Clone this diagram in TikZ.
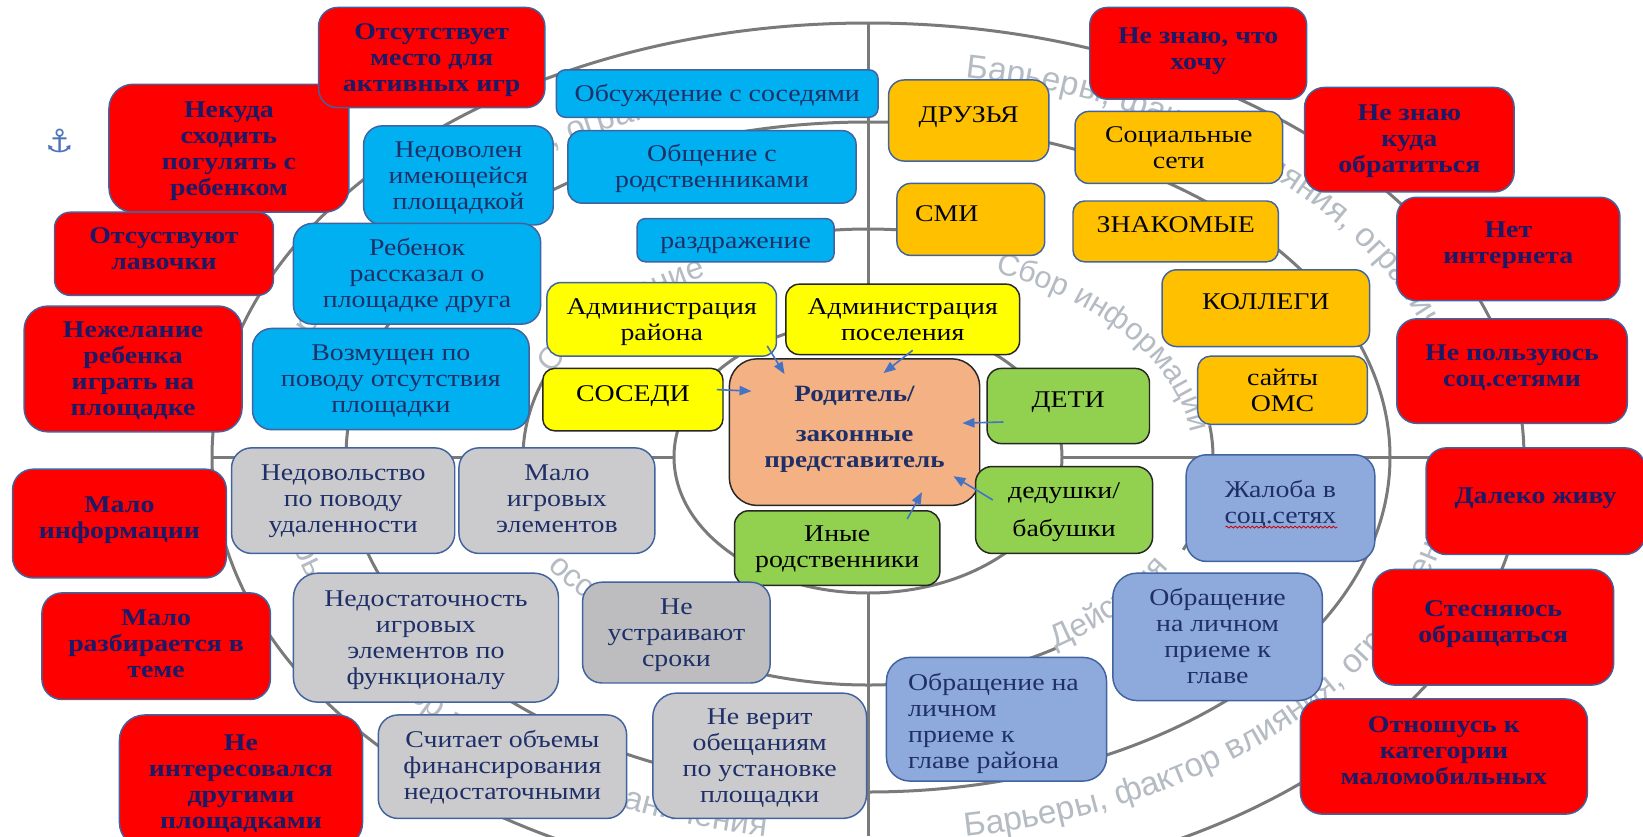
\documentclass[tikz,border=0pt]{standalone}
\usepackage{fontspec}
\usetikzlibrary{calc,decorations.text,decorations.pathmorphing,arrows.meta}
\setmainfont{Liberation Serif}[FakeStretch=1.16]
\newfontfamily\wmf{Liberation Sans}
\newfontfamily\symf{DejaVu Sans}
\definecolor{ringc}{HTML}{7A7A7A}
\definecolor{wmc}{HTML}{B4BBC3}
\definecolor{navy}{HTML}{1F3068}
\definecolor{rednavy}{HTML}{1A1A66}
\definecolor{edgeb}{HTML}{41639F}
\definecolor{edgek}{HTML}{262626}
\definecolor{redf}{HTML}{FF0000}
\definecolor{bluef}{HTML}{00B0F0}
\definecolor{orangef}{HTML}{FFC000}
\definecolor{yellowf}{HTML}{FFFF00}
\definecolor{peachf}{HTML}{F4B183}
\definecolor{greenf}{HTML}{92D050}
\definecolor{grayf}{HTML}{CBCBCE}
\definecolor{grayd}{HTML}{BDBDBF}
\definecolor{perif}{HTML}{8EA9DB}
\definecolor{arrc}{HTML}{4472C4}
\def\wmA{\wmf\fontsize{25pt}{25pt}\selectfont\color{wmc}}
\def\wmB{\wmf\fontsize{24pt}{24pt}\selectfont\color{wmc}}
\def\wmC{\wmf\fontsize{23pt}{23pt}\selectfont\color{wmc}}
\newcommand\bx[8]{%
 \pgfmathsetmacro\bxCX{(#3+#5)/2*1.04783}%
 \pgfmathsetmacro\bxCY{(#4+#6)/2*.53316}%
 \pgfmathsetmacro\bxW{(#5-#3)*1.04783*.75}%
 \pgfmathsetmacro\bxH{(#6-#4)*.53316*.75}%
 \pgfmathsetmacro\bxR{0.19*min(\bxW,\bxH)}%
 \node[#1,rounded corners=\bxR pt,minimum width=\bxW pt,minimum height=\bxH pt] (#2) at (\bxCX,\bxCY)
  {\raisebox{\dimexpr #7pt-6.3pt\relax}[0pt][0pt]{\begin{tabular}{@{}c@{}}#8\end{tabular}}};}
\tikzset{
 ring/.style={draw=ringc,line width=2.25pt},
 wmark/.style={decorate},
 boxbase/.style={shape=rectangle,inner sep=0pt,line width=1.1pt,font=\fontsize{18pt}{19.5pt}\selectfont},
 redbox/.style={boxbase,fill=redf,draw=edgeb,text=rednavy,font=\fontsize{18pt}{19.5pt}\selectfont\bfseries},
 bluebox/.style={boxbase,fill=bluef,draw=edgeb,text=navy},
 orangebox/.style={boxbase,fill=orangef,draw=edgeb,text=black!85!navy},
 yellowblue/.style={boxbase,fill=yellowf,draw=edgeb,text=black!85!navy},
 yellowbox/.style={boxbase,fill=yellowf,draw=edgek,text=black},
 parentbox/.style={boxbase,fill=peachf,draw=edgek,text=navy,font=\fontsize{17.5pt}{19.5pt}\selectfont\bfseries},
 greenbox/.style={boxbase,fill=greenf,draw=edgek,text=black},
 graybox/.style={boxbase,fill=grayf,draw=edgeb,text=navy},
 graydark/.style={boxbase,fill=grayd,draw=edgeb,text=navy},
 peribox/.style={boxbase,fill=perif,draw=edgeb,text=navy},
 arr/.style={draw=arrc,line width=1.2pt,-{Triangle[length=9pt,width=7pt]}},
 squiggle/.style={draw=red!80!black,line width=.6pt,decorate,decoration={snake,amplitude=.7pt,segment length=3.2pt}}
}
\begin{document}
\begin{tikzpicture}[x=0.75pt,y=-0.75pt]
\useasboundingbox (0,0) rectangle (1643,836);
\clip (0,0) rectangle (1643,836);
\fill[white] (0,0) rectangle (1643,836);
\coordinate (cen) at (868,457);
% rings
\draw[ring] (cen) ellipse [x radius=656,y radius=434];
\draw[ring] (cen) ellipse [x radius=522,y radius=335];
\draw[ring] (cen) ++(-117:345 and 228) arc[start angle=-117,end angle=-72,x radius=345,y radius=228];
\draw[ring] (cen) ++(-8:345 and 228) arc[start angle=-8,end angle=24,x radius=345,y radius=228];
\draw[ring] (cen) ++(57:345 and 228) arc[start angle=57,end angle=138,x radius=345,y radius=228];
\draw[ring] (cen) ++(165:345 and 228) arc[start angle=165,end angle=202,x radius=345,y radius=228];
\draw[ring] (cen) ellipse [x radius=194,y radius=136];
\coordinate (vt) at (868,23); \coordinate (vtb) at (868,321);
\coordinate (vb) at (868,593); \coordinate (vbb) at (868,836);
\coordinate (hl) at (212,457); \coordinate (hlb) at (674,457);
\coordinate (hr) at (1062,457); \coordinate (hrb) at (1524,457);
\draw[ring] (vt) -- (vtb); \draw[ring] (vb) -- (vbb);
\draw[ring] (hl) -- (hlb); \draw[ring] (hr) -- (hrb);
% watermark text
\path[wmark,decoration={text along path,text align=left,text={|\wmA|Барьеры, фактор влияния, ограничения}}]
  (cen) ++(-80.5:590 and 385) arc[start angle=-80.5,end angle=0,x radius=590,y radius=385];
\path[wmark,decoration={text along path,text align=left,text={|\wmA|Барьеры, фактор влияния, ограничения}}]
  (cen) ++(80.5:590 and 385) arc[start angle=80.5,end angle=0,x radius=590,y radius=385];
\path[wmark,decoration={text along path,text align=right,text={|\wmA|Барьеры, фактор влияния, ограничения}}]
  (cen) ++(180:590 and 385) arc[start angle=180,end angle=100,x radius=590,y radius=385];
\path[wmark,decoration={text along path,text align=right,text={|\wmA|Барьеры, фактор влияния, ограничения}}]
  (cen) ++(-180:590 and 365) arc[start angle=-180,end angle=-100.5,x radius=590,y radius=365];
\path[wmark,decoration={text along path,text align=left,text={|\wmC|Сбор информации}}]
  (cen) ++(-67:325 and 200) arc[start angle=-67,end angle=0,x radius=325,y radius=200];
\path[wmark,decoration={text along path,text align=right,text={|\wmB|Обсуждение}}]
  (cen) ++(-165:345 and 205) arc[start angle=-165,end angle=-118,x radius=345,y radius=205];
\path[wmark,decoration={text along path,text align=left,text={|\wmB|Действия}}]
  (cen) ++(57:345 and 228) arc[start angle=57,end angle=10,x radius=345,y radius=228];
\path[wmark,decoration={text along path,text align=left,text={|\wmB|осс}}]
  (cen) ++(150:370 and 220) arc[start angle=150,end angle=115,x radius=370,y radius=220];
% anchor
\node[text=arrc!85!gray,font=\symf\fontsize{24pt}{24pt}\selectfont,inner sep=0pt] (anchor) at (60,141) {⚓};
% boxes: style,name,x1,y1,x2,y2,text shift up (pt),text
\bx{redbox}{r1}{104}{158}{333}{398}{0}{Некуда\\сходить\\погулять с\\ребенком}
\bx{redbox}{r2}{304}{14}{520}{202}{0}{Отсутствует\\место для\\активных игр}
\bx{redbox}{r3}{52}{398}{261}{554}{3.6}{Отсуствуют\\лавочки}
\bx{redbox}{r4}{23}{574}{231}{810}{0}{Нежелание\\ребенка\\играть на\\площадке}
\bx{redbox}{r5}{12}{880}{216}{1084}{4.8}{Мало\\информации}
\bx{redbox}{r6}{40}{1112}{258}{1312}{2}{Мало\\разбирается в\\теме}
\bx{redbox}{r7}{114}{1341}{346}{1590}{0}{Не\\интересовался\\другими\\площадками}
\bx{redbox}{r8}{1040}{14}{1247}{186}{3.6}{Не знаю, что\\хочу}
\bx{redbox}{r9}{1245}{164}{1445}{360}{1}{Не знаю\\куда\\обратиться}
\bx{redbox}{r10}{1333}{370}{1546}{564}{4.8}{Нет\\интернета}
\bx{redbox}{r11}{1333}{598}{1553}{794}{4.4}{Не пользуюсь\\соц.сетями}
\bx{redbox}{r12}{1361}{840}{1570}{1040}{4.4}{Далеко живу}
\bx{redbox}{r13}{1310}{1068}{1540}{1285}{4.4}{Стесняюсь\\обращаться}
\bx{redbox}{r14}{1241}{1311}{1515}{1527}{4.4}{Отношусь к\\категории\\маломобильных}
\bx{bluebox}{b1}{531}{131}{838}{220}{0}{Обсуждение с соседями}
\bx{bluebox}{b2}{542}{245}{817}{381}{0}{Общение с\\родственниками}
\bx{bluebox}{b3}{347}{236}{528}{422}{0}{Недоволен\\имеющейся\\площадкой}
\bx{bluebox}{b4}{608}{410}{796}{491}{0}{раздражение}
\bx{bluebox}{b5}{280}{419}{516}{608}{0}{Ребенок\\рассказал о\\площадке друга}
\bx{bluebox}{b6}{241}{616}{505}{806}{0}{Возмущен по\\поводу отсутствия\\площадки}
\bx{orangebox}{o1}{848}{150}{1001}{302}{4.4}{ДРУЗЬЯ}
\bx{orangebox}{o2}{1026}{209}{1224}{344}{0}{Социальные\\сети}
\bx{orangebox}{o3}{856}{344}{997}{479}{4.4}{СМИ\hspace{36pt}\mbox{}}
\bx{orangebox}{o4}{1024}{377}{1220}{491}{5.2}{ЗНАКОМЫЕ}
\bx{orangebox}{o5}{1109}{506}{1307}{650}{4.8}{КОЛЛЕГИ}
\bx{orangebox}{o6}{1143}{668}{1305}{796}{0}{сайты\\ОМС}
\bx{yellowblue}{admR}{522}{530}{741}{668}{0}{Администрация\\района}
\bx{yellowbox}{admP}{750}{533}{973}{665}{0}{Администрация\\поселения}
\bx{yellowbox}{sos}{518}{691}{690}{808}{4.4}{СОСЕДИ}
\bx{parentbox}{par}{696}{673}{935}{948}{4}{Родитель/\\[10.5pt]законные\\представитель}
\bx{greenbox}{det}{942}{691}{1097}{832}{4.4}{ДЕТИ}
\bx{greenbox}{ded}{931}{875}{1100}{1038}{0}{дедушки/\\[9pt]бабушки}
\bx{greenbox}{ino}{701}{958}{897}{1098}{1}{Иные\\родственники}
\bx{graybox}{g1}{221}{840}{434}{1038}{1.5}{Недовольство\\по поводу\\удаленности}
\bx{graybox}{g2}{438}{840}{625}{1038}{1.5}{Мало\\игровых\\элементов}
\bx{graybox}{g3}{280}{1075}{533}{1317}{0}{Недостаточность\\игровых\\элементов по\\функционалу}
\bx{graydark}{g4}{556}{1092}{735}{1281}{0}{Не\\устраивают\\сроки}
\bx{graybox}{g5}{361}{1341}{598}{1535}{1}{Считает объемы\\финансирования\\недостаточными}
\bx{graybox}{g6}{623}{1300}{827}{1535}{0}{Не верит\\обещаниям\\по установке\\площадки}
\bx{peribox}{p1}{1132}{853}{1312}{1053}{4.4}{Жалоба в\\соц.сетях}
\bx{peribox}{p2}{1062}{1075}{1262}{1314}{0}{Обращение\\на личном\\приеме к\\главе}
\bx{peribox}{p3}{846}{1233}{1056}{1465}{-2}{\begin{tabular}{@{}l@{}}Обращение на\\личном\\приеме к\\главе района\end{tabular}\hspace{4.5pt}\mbox{}}
% arrows
\draw[arr] ($(admR.south east)+(-10,-11)$) -- ($(par.north west)+(56,16)$);
\draw[arr] ($(admP.south)+(10,-5)$) -- ($(par.north)+(29,15)$);
\draw[arr] ($(sos.east)+(-7,-10)$) -- ($(par.west)+(23,-41)$);
\draw[arr] ($(det.west)+(17,16)$) -- ($(par.east)+(-18,-9)$);
\draw[arr] ($(ded.west)+(18,-10)$) -- ($(par.south east)+(-27,-30)$);
\draw[arr] ($(ino.north)+(70,9)$) -- ($(par.south)+(67.5,-14)$);
% squiggle under the spell-checked word
\draw[squiggle] ($(p1.center)+(-55,19)$) -- ($(p1.center)+(57,19)$);
\end{tikzpicture}
\end{document}
